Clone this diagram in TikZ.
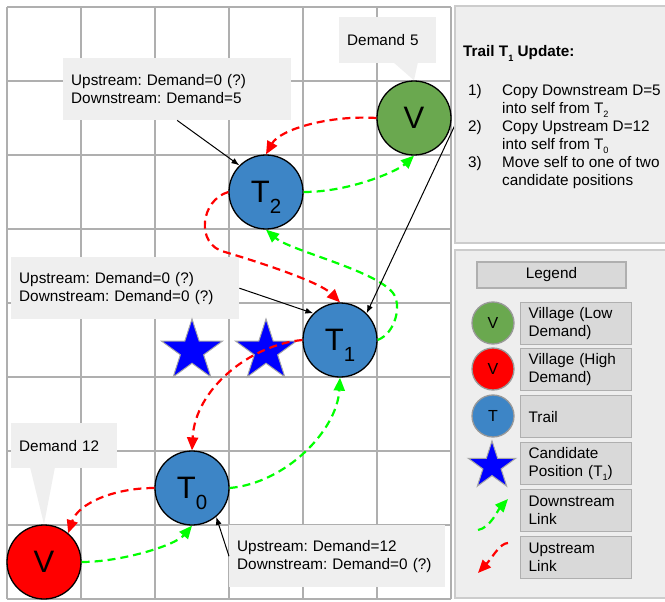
\documentclass[tikz,border=0pt]{standalone}
\usepackage{fontspec}
\setmainfont{Liberation Sans}
\usetikzlibrary{shapes.geometric,arrows.meta}
\usepackage{xcolor}
\definecolor{gridgray}{HTML}{AFAFAF}
\definecolor{vgreen}{HTML}{6AA84F}
\definecolor{vred}{HTML}{FF0000}
\definecolor{tblue}{HTML}{3D85C6}
\definecolor{starblue}{HTML}{0000FF}
\definecolor{linkgreen}{HTML}{00FF00}
\definecolor{linkred}{HTML}{FF0000}
\definecolor{calloutgray}{HTML}{EFEFEF}
\definecolor{panelgray}{HTML}{EEEEEE}
\definecolor{panelrim}{HTML}{CCCCCC}
\definecolor{leggray}{HTML}{D9D9D9}
\definecolor{legrim}{HTML}{AFAFAF}
\frenchspacing
\newcommand{\diagfont}{\fontsize{15.3}{18}\selectfont}
\newcommand{\lowsub}[1]{\smash{\raisebox{-0.35em}{\scalebox{0.66}{#1}}}}
\newcommand{\smallsub}[1]{\smash{\raisebox{-0.28em}{\scalebox{0.6}{#1}}}}
\tikzset{
    gridline/.style={draw=gridgray, line width=1.8pt, line cap=square},
    site/.style={
        circle,
        draw=black,
        line width=1.3pt,
        minimum size=74pt,
        inner sep=0pt,
        font=\fontsize{31}{31}\selectfont
    },
    candidate/.style={
        star,
        star points=5,
        star point ratio=2.618,
        minimum size=64pt,
        inner sep=0pt,
        fill=starblue,
        draw=black!35,
        line width=1pt
    },
    downlink/.style={draw=linkgreen, line width=2.2pt,
        dash pattern=on 8pt off 5pt, -{Triangle[length=13pt,width=11pt]}},
    uplink/.style={draw=linkred, line width=2.2pt,
        dash pattern=on 8pt off 5pt, -{Triangle[length=13pt,width=11pt]}},
    callout/.style={fill=calloutgray, anchor=north west, inner xsep=8pt,
        inner ysep=0pt, align=left, font=\diagfont},
    pointer/.style={draw=black, line width=1pt, -{Latex[length=8pt,width=6pt]}},
    legsite/.style={circle, draw=black!40, line width=1.3pt, minimum size=42pt,
        inner sep=0pt, font=\fontsize{16}{16}\selectfont},
    legbox/.style={draw=legrim, fill=leggray, line width=1.3pt, anchor=north west,
        minimum width=111pt, minimum height=42pt, text width=95pt,
        inner xsep=8pt, inner ysep=0pt, align=left, font=\diagfont}
}

\begin{document}
\begin{tikzpicture}[x=1pt,y=-1pt]
    \useasboundingbox (0,0) rectangle (665,602);
    % draw grid
    \foreach \i in {0,...,6}
        \draw[gridline] (7+74*\i,7) -- (7+74*\i,599);
    \foreach \j in {0,...,8}
        \draw[gridline] (7,7+74*\j) -- (451,7+74*\j);
    % callouts
    \node[callout, minimum width=228pt, minimum height=62pt, text width=212pt]
        (t2info) at (63,58) {Upstream: Demand=0 (?)\\Downstream: Demand=5};
    \node[callout, minimum width=228pt, minimum height=62pt, text width=212pt]
        (t1info) at (11,257) {Upstream: Demand=0 (?)\\Downstream: Demand=0 (?)};
    \node[callout, minimum width=216pt, minimum height=62pt, text width=200pt]
        (t0info) at (229,525) {Upstream: Demand=12\\Downstream: Demand=0 (?)};
    \node[callout, minimum width=97pt, minimum height=46pt, text width=81pt]
        (v5info) at (339,17) {Demand 5};
    \node[callout, minimum width=106pt, minimum height=45pt, text width=90pt]
        (v12info) at (11,423) {Demand 12};
    % candidate positions
    \node[candidate] (cand1) at (192,351) {};
    \node[candidate] (cand2) at (266,351) {};
    % villages and trails
    \node[site, fill=vgreen] (vlow) at (414,118) {V};
    \node[site, fill=tblue] (t2) at (266,192) {T\lowsub{2}};
    \node[site, fill=tblue] (t1) at (340,340) {T\lowsub{1}};
    \node[site, fill=tblue] (t0) at (192,488) {T\lowsub{0}};
    \node[site, fill=vred] (vhigh) at (44,562) {V};
    % callout tails
    \fill[calloutgray] (393,62) -- (vlow.north) -- (418,62) -- cycle;
    \fill[calloutgray] (30,467) -- (vhigh.north) -- (55,467) -- cycle;
    % upstream links
    \draw[uplink] (vlow.west) .. controls +(-47,-3) and +(14,-25) .. (t2.north);
    \draw[uplink] (t2.west) .. controls +(-28,8) and +(-30,-7) .. (225,252)
        .. controls +(40,12) and +(-20,-20) .. (t1.north);
    \draw[uplink] (t1.west) .. controls +(-53,5) and +(3,-61) .. (t0.north);
    \draw[uplink] (t0.west) .. controls +(-40,0) and +(10,-30) .. (vhigh.50);
    % downstream links
    \draw[downlink] (vhigh.east) .. controls +(39,0) and +(-17,20) .. (t0.south);
    \draw[downlink] (t0.east) .. controls +(56,-5) and +(-3,53) .. (t1.south);
    \draw[downlink] (t1.east) .. controls +(18,-7) and +(9,12) .. (393,293)
        .. controls +(-18,-23) and +(24,21) .. (t2.south);
    \draw[downlink] (t2.east) .. controls +(47,0) and +(-16,15) .. (vlow.south);
    % pointers
    \coordinate (stepsptr) at (455,125);
    \draw[pointer] (t2info.south) -- (t2.135);
    \draw[pointer] (t1info.east) -- (t1.135);
    \draw[pointer] (t0info.west) -- (t0.-50);
    \draw[pointer] (stepsptr) -- (t1.45);
    % update panel
    \filldraw[fill=panelgray, draw=panelrim, line width=1.2pt]
        (455,6) rectangle (672,243);
    \node[anchor=base west, inner sep=0pt, font=\diagfont\bfseries]
        (updtitle) at (463,57) {Trail T\smallsub{1} Update:};
    \node[anchor=north west, inner sep=0pt, font=\diagfont]
        (updsteps) at (468,82.4) {\begin{tabular}{@{}p{34pt}@{}l@{}}
            1) & Copy Downstream D=5\\
               & into self from T\smallsub{2}\\
            2) & Copy Upstream D=12\\
               & into self from T\smallsub{0}\\
            3) & Move self to one of two\\
               & candidate positions
        \end{tabular}};
    % legend panel
    \filldraw[fill=panelgray, draw=panelrim, line width=1.2pt]
        (455,250) rectangle (672,598);
    \node[legbox, anchor=center, minimum width=149pt, minimum height=26pt,
        text width=133pt, align=center] (leghead) at (551.5,275) {Legend};
    \node[legsite, fill=vgreen] (keyvlow) at (493,323) {V};
    \node[legsite, fill=vred] (keyvhigh) at (493,369) {V};
    \node[legsite, fill=tblue] (keytrail) at (493,416) {T};
    \node[candidate, minimum size=50pt] (keycand) at (492,466) {};
    \coordinate (dsa) at (478,530);
    \coordinate (dsb) at (508,499);
    \coordinate (usa) at (508,543);
    \coordinate (usb) at (478,573);
    \draw[downlink] (dsa) .. controls +(12,-2) and +(-10,11) .. (dsb);
    \draw[uplink] (usa) .. controls +(-8,0) and +(14,-15) .. (usb);
    \node[legbox] (labvlow) at (520,302) {Village (Low\\Demand)};
    \node[legbox] (labvhigh) at (520,348) {Village (High\\Demand)};
    \node[legbox] (labtrail) at (520,395) {Trail};
    \node[legbox] (labcand) at (520,442) {Candidate\\Position (T\smallsub{1})};
    \node[legbox] (labdown) at (520,489) {Downstream\\Link};
    \node[legbox] (labup) at (520,536) {Upstream\\Link};
\end{tikzpicture}
\end{document}
